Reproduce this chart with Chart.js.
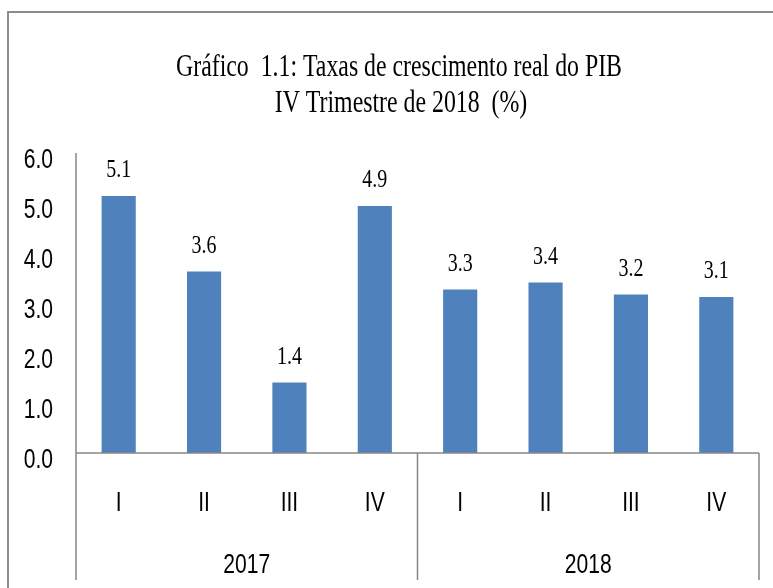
<!DOCTYPE html>
<html>
<head>
<meta charset="utf-8">
<script src="https://cdn.jsdelivr.net/npm/chart.js@4"></script>
<style>
  html, body { margin: 0; padding: 0; background: #fff; }
  #wrap { width: 773px; height: 588px; }
</style>
</head>
<body>
<div id="wrap"><canvas id="pib" width="773" height="588"></canvas></div>
<script>
// Data
const quarters = ["I", "II", "III", "IV", "I", "II", "III", "IV"];
const years = ["2017", "2018"];
const growth = [5.14, 3.63, 1.41, 4.94, 3.27, 3.41, 3.17, 3.12];
const yTicks = [0, 1, 2, 3, 4, 5, 6];
const titleLines = ["Gráfico  1.1: Taxas de crescimento real do PIB", "IV Trimestre de 2018  (%)"];

const barBlue = "#4F81BD";
const lineGrey = "#868686";

// draw text squeezed horizontally, like the original picture
function squeezedText(ctx, text, x, y, font, sx, align) {
  ctx.save();
  ctx.font = font;
  ctx.textAlign = align || "center";
  ctx.textBaseline = "alphabetic";
  ctx.fillStyle = "#000";
  ctx.translate(x, y);
  ctx.scale(sx, 1);
  ctx.fillText(text, 0, 0);
  ctx.restore();
}

const decorations = {
  id: "decorations",
  afterDatasetsDraw(chart) {
    const ctx = chart.ctx;
    const area = chart.chartArea;
    const xs = chart.scales.x;
    const ys = chart.scales.y;
    const bottom = 580;
    const zeroY = ys.getPixelForValue(0);

    // outer frame (left and top edges visible)
    ctx.save();
    ctx.strokeStyle = "#8c8c8c";
    ctx.lineWidth = 2;
    ctx.beginPath();
    ctx.moveTo(8, 588);
    ctx.lineTo(8, 12);
    ctx.lineTo(773, 12);
    ctx.stroke();
    ctx.restore();

    // title
    const titleFont = "31px 'Liberation Serif', serif";
    ctx.font = titleFont;
    const sx = 446 / ctx.measureText(titleLines[0]).width;
    squeezedText(ctx, titleLines[0], 399, 76, titleFont, sx);
    squeezedText(ctx, titleLines[1], 401, 112, titleFont, sx);

    // axes lines
    ctx.save();
    ctx.strokeStyle = lineGrey;
    ctx.lineWidth = 1.5;
    ctx.beginPath();
    ctx.moveTo(area.left, area.top);
    ctx.lineTo(area.left, bottom);
    ctx.moveTo(area.left, zeroY);
    ctx.lineTo(area.right, zeroY);
    // group separators
    const mid = (xs.getPixelForValue(3) + xs.getPixelForValue(4)) / 2;
    ctx.moveTo(mid, zeroY);
    ctx.lineTo(mid, bottom);
    ctx.moveTo(area.right, zeroY);
    ctx.lineTo(area.right, bottom);
    ctx.stroke();
    ctx.restore();

    // y tick labels
    const sansFont = "27px 'Liberation Sans', sans-serif";
    yTicks.forEach(v => {
      squeezedText(ctx, v.toFixed(1), 53, ys.getPixelForValue(v) + 14.5, sansFont, 0.78, "right");
    });

    // category labels
    quarters.forEach((q, i) => {
      squeezedText(ctx, q, xs.getPixelForValue(i), 511, sansFont, 0.78);
    });
    years.forEach((yr, g) => {
      const x0 = g === 0 ? area.left : mid;
      const x1 = g === 0 ? mid : area.right;
      squeezedText(ctx, yr, (x0 + x1) / 2, 573, sansFont, 0.78);
    });

    // value labels
    const meta = chart.getDatasetMeta(0);
    meta.data.forEach((bar, i) => {
      squeezedText(ctx, growth[i].toFixed(1), bar.x, bar.y - 19, "25px 'Liberation Serif', serif", 0.8);
    });
  }
};

new Chart(document.getElementById("pib"), {
  type: "bar",
  data: {
    labels: quarters,
    datasets: [{
      data: growth,
      backgroundColor: barBlue,
      borderWidth: 0,
      barPercentage: 0.5,
      categoryPercentage: 0.8
    }]
  },
  options: {
    responsive: false,
    animation: false,
    layout: { padding: { left: 76, right: 14, top: 153, bottom: 135 } },
    plugins: {
      legend: { display: false },
      title: { display: false },
      tooltip: { enabled: false }
    },
    scales: {
      x: { display: false },
      y: { display: false, min: 0, max: 6 }
    }
  },
  plugins: [decorations]
});
</script>
</body>
</html>
